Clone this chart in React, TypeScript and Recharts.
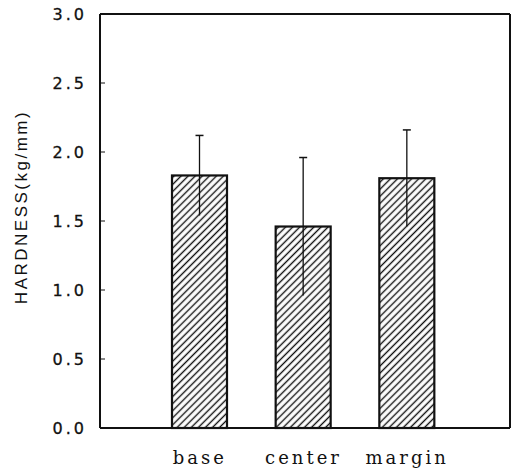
import { BarChart, Bar, XAxis, YAxis } from 'recharts';

const regions = ['base', 'center', 'margin'];
const hardness = [1.83, 1.46, 1.81];
const spread = [0.29, 0.5, 0.35];
const yTicks = [0, 0.5, 1, 1.5, 2, 2.5, 3];

const data = regions.map((name, i) => ({ name, hardness: hardness[i], err: spread[i] }));

const INK = '#111';

/* ── bar with hatch + one-sided-cap error line ─────────────────────── */
function HatchedBar(props: any) {
  const { x, y, width, height, value, payload } = props;
  const v = Array.isArray(value) ? value[1] - value[0] : value;
  const ppu = height / v;
  const cx = x + width / 2;
  const top = y - payload.err * ppu;
  const low = y + payload.err * ppu;
  return (
    <g>
      <rect x={x} y={y} width={width} height={height} fill="url(#hatch)" stroke={INK} strokeWidth={2.2} />
      <line x1={cx} x2={cx} y1={top} y2={low} stroke={INK} strokeWidth={1.3} />
      <line x1={cx - 4} x2={cx + 4} y1={top} y2={top} stroke={INK} strokeWidth={1.5} />
    </g>
  );
}

function YTick({ x, y, payload }: any) {
  return (
    <g>
      <text x={x + 4} y={y} dy="0.36em" textAnchor="end" fill={INK} stroke={INK} strokeWidth={0.3}
        style={{ fontFamily: 'DejaVu Sans', fontSize: 16, letterSpacing: 3 }}>
        {payload.value.toFixed(1)}
      </text>
      <line x1={x + 17} x2={x + 22} y1={y} y2={y} stroke={INK} strokeWidth={1} />
    </g>
  );
}

function YLabel({ viewBox }: any) {
  const x = 27;
  const y = viewBox.y + viewBox.height / 2 - 14;
  return (
    <text x={x} y={y} transform={`rotate(-90, ${x}, ${y})`} textAnchor="middle" fill={INK}
      style={{ fontFamily: 'Liberation Sans', fontSize: 17, letterSpacing: 2.5 }}>
      HARDNESS(kg/mm)
    </text>
  );
}

export default function App() {
  return (
    <div style={{ position: 'absolute', left: 0, top: 0, background: '#fff' }}>
      <BarChart width={519} height={476} data={data} margin={{ top: 13, right: 8, bottom: 0, left: 0 }}>
        <defs>
          <pattern id="hatch" patternUnits="userSpaceOnUse" width={5} height={5} patternTransform="rotate(45)">
            <line x1={2.5} y1={0} x2={2.5} y2={5} stroke={INK} strokeWidth={1.4} />
          </pattern>
        </defs>
        <XAxis dataKey="name" height={48} tickLine={false} tickSize={0} tickMargin={23}
          axisLine={{ stroke: INK, strokeWidth: 2 }} padding={{ left: 48, right: 51 }}
          tick={{ fill: INK, fontFamily: 'DejaVu Serif', fontSize: 18, letterSpacing: 3 }} />
        <XAxis xAxisId="top" dataKey="name" orientation="top" height={1} tick={false} tickLine={false}
          axisLine={{ stroke: INK, strokeWidth: 2 }} />
        <YAxis domain={[0, 3]} ticks={yTicks} width={100} tickSize={0} tickMargin={17} tickLine={false}
          axisLine={{ stroke: INK, strokeWidth: 2 }} tick={<YTick />} label={<YLabel />} />
        <YAxis yAxisId="right" orientation="right" domain={[0, 3]} width={1} tick={false} tickLine={false}
          axisLine={{ stroke: INK, strokeWidth: 2 }} />
        <Bar dataKey="hardness" barSize={55} shape={<HatchedBar />} isAnimationActive={false} />
      </BarChart>
    </div>
  );
}
